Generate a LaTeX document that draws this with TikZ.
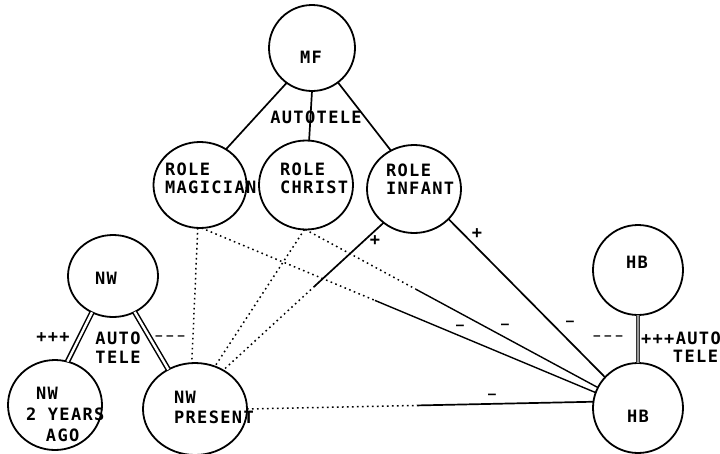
\documentclass[tikz,border=0pt]{standalone}
\usepackage{fontspec}
\newfontfamily\lettr[LetterSpace=8]{DejaVu Sans Mono}
\usetikzlibrary{shapes.geometric,calc}
\tikzset{
  bub/.style={draw, ellipse, line width=1.8pt, inner sep=0pt, outer sep=0pt},
  lab/.style={inner sep=0pt, outer sep=0pt, font=\lettr\bfseries\fontsize{17}{18}\selectfont},
  dashlab/.style={lab, font=\lettr\bfseries\fontsize{11}{14}\selectfont},
  minus/.style={lab, font=\lettr\bfseries\fontsize{13}{16}\selectfont},
  conn/.style={line width=1.7pt},
  thin conn/.style={line width=1.4pt},
  dots/.style={line width=1.5pt, dash pattern=on 1.6pt off 3.4pt},
  dbl/.style={double, double distance=2.4pt, line width=1.5pt},
  hbl/.style={draw=black!80, double=black!40, double distance=1.3pt, line width=1.2pt},
}
\begin{document}
\begin{tikzpicture}[x=1pt,y=-1pt]
\useasboundingbox (0,0) rectangle (720,453);
% nodes
\node[bub, minimum width=86, minimum height=86] (mf) at (312,48) {};
\node[bub, minimum width=93, minimum height=86] (mag) at (200,185) {};
\node[bub, minimum width=94, minimum height=89] (chr) at (306,185) {};
\node[bub, minimum width=94, minimum height=88] (inf) at (414,189) {};
\node[bub, minimum width=90, minimum height=82] (nw) at (113,276) {};
\node[bub, minimum width=94, minimum height=90] (nw2) at (55,405) {};
\node[bub, minimum width=104, minimum height=92] (nwp) at (195,409) {};
\node[bub, minimum width=90, minimum height=90] (hbt) at (638,270) {};
\node[bub, minimum width=90, minimum height=90] (hbb) at (638,408) {};
% connectors
\draw[conn] (mf.-126) -- (mag.54);
\draw[conn] (mf.-90) -- (chr.86);
\draw[conn] (mf.-53) -- (inf.121);
\draw[dbl] (nw.-120) -- (nw2.74);
\draw[dbl] (nw.-59) -- (nwp.124);
\draw[dots] (mag.-93) -- (nwp.94);
\coordinate (b1) at ($(mag.-88)!0.44!(hbb.160)$);
\draw[dots] (mag.-88) -- (b1);
\draw[thin conn] (b1) -- (hbb.160);
\coordinate (b2) at ($(chr.-91)!0.377!(hbb.153)$);
\draw[dots] (chr.-91) -- (b2);
\draw[thin conn] (b2) -- (hbb.153);
\draw[dots] (chr.-92) -- (nwp.65);
\coordinate (b3) at ($(inf.-132)!0.43!(nwp.54)$);
\draw[conn] (inf.-132) -- (b3);
\draw[dots] (b3) -- (nwp.54);
\draw[conn] (inf.-41.5) -- (hbb.137);
\coordinate (b4) at ($(nwp.0)!0.49!(hbb.172.5)$);
\draw[dots] (nwp.0) -- (b4);
\draw[conn] (b4) -- (hbb.172.5);
\draw[hbl] (hbt.-90) -- (hbb.90);
% texts
\node[lab] (mft) at (311,57) {MF};
\node[lab, align=left, anchor=north west] (magt) at (165,163) {ROLE\\MAGICIAN};
\node[lab, align=left, anchor=north west] (chrt) at (280,163) {ROLE\\CHRIST};
\node[lab, align=left, anchor=north west] (inft) at (386,164) {ROLE\\INFANT};
\node[lab] (nwt) at (106,278) {NW};
\node[lab, align=left, anchor=north west, font=\lettr\bfseries\fontsize{17}{21}\selectfont] (nw2t) at (26,387) {\hspace*{10pt}NW\\2 YEARS\\\hspace*{20pt}AGO};
\node[lab, align=left, anchor=north west, font=\lettr\bfseries\fontsize{17}{20}\selectfont] (nwpt) at (174,391) {NW\\PRESENT};
\node[lab] (hbtt) at (637,262) {HB};
\node[lab] (hbbt) at (638,416) {HB};
\node[lab] (at1) at (316,117) {AUTOTELE};
\node[lab] (pp1) at (53,338) {+++};
\node[lab, align=center, font=\lettr\bfseries\fontsize{17}{19}\selectfont] (at2) at (118,348) {AUTO\\TELE};
\node[dashlab] (mm1) at (170,338) {–\hspace{4.5pt}–\hspace{4.5pt}–};
\node[dashlab] (mm2) at (608,338) {–\hspace{4.5pt}–\hspace{4.5pt}–};
\node[lab, anchor=west] (at3) at (641,338) {+++AUTO};
\node[lab, anchor=east] (at4) at (718,356) {TELE};
\node[lab] (p1) at (375,241) {+};
\node[lab] (p2) at (477,234) {+};
\node[minus] (m1) at (460,327) {–};
\node[minus] (m2) at (505,326) {–};
\node[minus] (m3) at (570,323) {–};
\node[minus] (m4) at (492,396) {–};
\end{tikzpicture}
\end{document}
